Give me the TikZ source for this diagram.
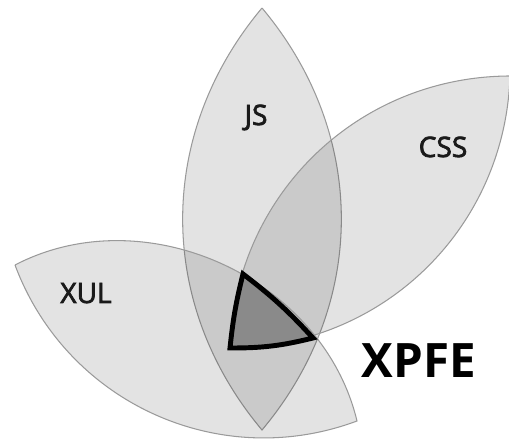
\documentclass[tikz,border=0pt]{standalone}
\usepackage{fontspec}
\newfontfamily\petalfont[FakeBold=2.5]{Open Sans}
\newfontfamily\xpfefont{Open Sans}
\definecolor{petalline}{HTML}{9A9A9A}
\definecolor{corefill}{HTML}{8A8A8A}
\definecolor{labelgray}{HTML}{1A1A1A}
\begin{document}
\begin{tikzpicture}[
        petal/.style={draw=petalline, line width=0.6pt, fill=black, fill opacity=0.11},
        core/.style={draw=black, line width=2.8pt, fill=corefill},
        petallabel/.style={anchor=base, text=labelgray, font=\petalfont\fontsize{16}{18}\selectfont},
        biglabel/.style={anchor=base, font=\xpfefont\bfseries\fontsize{27}{30}\selectfont}
    ]%% start picture
            \useasboundingbox (0, 0) rectangle (10.18, 8.92);

            %% tips of the petals
                \coordinate (jsTop) at (5.24, 8.76);
                \coordinate (jsBot) at (5.24, 0.32);
                \coordinate (cssLow) at (4.60, 1.96);
                \coordinate (cssTip) at (10.20, 7.40);
                \coordinate (xulLeft) at (0.30, 3.62);
                \coordinate (xulRight) at (7.14, 0.50);

            %% the three petals
                \draw[petal] (jsTop) to[bend left=40] (jsBot) to[bend left=40] (jsTop);
                \draw[petal] (cssLow) to[bend left=44] (cssTip) to[bend left=44] (cssLow);
                \draw[petal] (xulLeft) to[bend left=52] (xulRight) to[bend left=45] (xulLeft);

            %% the middle
                \coordinate (coreTop) at (4.86, 3.44);
                \coordinate (coreRight) at (6.26, 2.16);
                \coordinate (coreLeft) at (4.60, 1.96);
                \draw[core] (coreTop) to[bend left=5] (coreRight) to[bend left=7] (coreLeft) to[bend left=4] cycle;

            %% labels
                \node[petallabel] (js) at (5.12, 6.42) {JS};
                \node[petallabel] (css) at (8.86, 5.78) {CSS};
                \node[petallabel] (xul) at (1.72, 2.86) {XUL};
                \node[biglabel] (xpfe) at (8.38, 1.36) {XPFE};

\end{tikzpicture}
\end{document}
